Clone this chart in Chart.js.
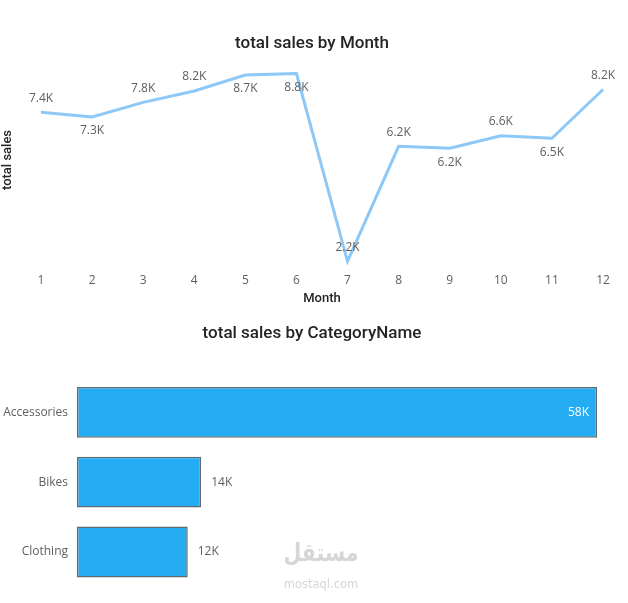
<!DOCTYPE html>
<html>
<head>
<meta charset="utf-8">
<script src="https://cdn.jsdelivr.net/npm/chart.js@4/dist/chart.umd.min.js"></script>
<style>
  html, body { margin: 0; padding: 0; background: #ffffff; }
  body { width: 628px; height: 603px; position: relative; overflow: hidden; }
  #lineWrap { position: absolute; left: 0; top: 0; width: 628px; height: 310px; }
  #barWrap { position: absolute; left: 0; top: 315px; width: 628px; height: 288px; }
  .wm { position: absolute; color: #d6d6d6; pointer-events: none; white-space: nowrap; transform: translateX(-50%); }
  #wmAr { top: 538px; left: 321px; font: bold 25px "DejaVu Sans", sans-serif; transform: translateX(-50%) scaleX(0.82); }
  #wmEn { top: 577px; left: 321px; font: 11.5px "DejaVu Sans", sans-serif; }
</style>
</head>
<body>
<div id="lineWrap"><canvas id="lineChart" width="628" height="310"></canvas></div>
<div id="barWrap"><canvas id="barChart" width="628" height="288"></canvas></div>
<div class="wm" id="wmAr">مستقل</div>
<div class="wm" id="wmEn">mostaql.com</div>
<script>
// ---- data ----
const months = ['1','2','3','4','5','6','7','8','9','10','11','12'];
const monthlySales = [7430, 7270, 7780, 8180, 8740, 8790, 2210, 6240, 6170, 6610, 6520, 8230];
const categories = ['Accessories', 'Bikes', 'Clothing'];
const categorySales = [58000, 13850, 12350];
// months whose data label sits below the line
const labelBelowMonths = ['2', '5', '6', '9', '11'];

const LABEL_FONT = '12px "Open Sans", sans-serif';
const LABEL_COLOR = '#605E5C';
const TITLE_CSS_FONT = '500 17px Roboto, sans-serif';
const TITLE_COLOR = '#252423';

const fmt1 = v => (v / 1000).toFixed(1) + 'K';
const fmt0 = v => Math.round(v / 1000) + 'K';

// centred chart title drawn across the full canvas width
const centerTitle = {
  id: 'centerTitle',
  afterDraw(chart, args, opts) {
    const ctx = chart.ctx;
    ctx.save();
    ctx.font = TITLE_CSS_FONT;
    ctx.fillStyle = TITLE_COLOR;
    ctx.textAlign = 'center';
    ctx.textBaseline = 'middle';
    ctx.fillText(opts.text, chart.width / 2 - 2, opts.y);
    ctx.restore();
  }
};

const lineLabels = {
  id: 'lineLabels',
  afterDatasetsDraw(chart) {
    const ctx = chart.ctx;
    const meta = chart.getDatasetMeta(0);
    ctx.save();
    ctx.font = LABEL_FONT;
    ctx.fillStyle = LABEL_COLOR;
    ctx.textAlign = 'center';
    ctx.textBaseline = 'middle';
    meta.data.forEach((pt, i) => {
      const below = labelBelowMonths.includes(months[i]);
      ctx.fillText(fmt1(monthlySales[i]), pt.x, pt.y + (below ? 14 : -14));
    });
    ctx.restore();
  }
};

new Chart(document.getElementById('lineChart'), {
  type: 'line',
  data: {
    labels: months,
    datasets: [{
      data: monthlySales,
      borderColor: '#8DC8F7',
      borderWidth: 3,
      pointRadius: 0,
      tension: 0,
      fill: false
    }]
  },
  options: {
    responsive: false,
    animation: false,
    layout: { padding: { left: 0, right: 25, top: 55, bottom: 3 } },
    plugins: {
      legend: { display: false },
      tooltip: { enabled: false },
      title: { display: false },
      centerTitle: { text: 'total sales by Month', y: 44 }
    },
    scales: {
      x: {
        offset: false,
        grid: { display: false, drawTicks: false },
        border: { display: false },
        ticks: { color: LABEL_COLOR, font: { family: 'Open Sans', size: 12 }, padding: 8, maxRotation: 0 },
        title: { display: true, text: 'Month', color: TITLE_COLOR, font: { family: 'Roboto', size: 13, weight: '500' }, padding: { top: 4, bottom: 0 } },
        afterFit(s) { s.height = 42; }
      },
      y: {
        min: 2080,
        max: 9440,
        grid: { display: false, drawTicks: false },
        border: { display: false },
        ticks: { display: false },
        title: { display: true, text: 'total sales', color: TITLE_COLOR, font: { family: 'Roboto', size: 13, weight: '500' }, padding: 0 },
        afterFit(s) { s.width = 41; }
      }
    }
  },
  plugins: [lineLabels, centerTitle]
});

const barLabels = {
  id: 'barLabels',
  afterDatasetsDraw(chart) {
    const ctx = chart.ctx;
    const meta = chart.getDatasetMeta(0);
    const area = chart.chartArea;
    ctx.save();
    ctx.font = LABEL_FONT;
    ctx.textBaseline = 'middle';
    meta.data.forEach((bar, i) => {
      const txt = fmt0(categorySales[i]);
      const w = ctx.measureText(txt).width;
      if (bar.x + 10 + w > area.right) {
        ctx.fillStyle = '#ffffff';
        ctx.textAlign = 'right';
        ctx.fillText(txt, bar.x - 8, bar.y);
      } else {
        ctx.fillStyle = LABEL_COLOR;
        ctx.textAlign = 'left';
        ctx.fillText(txt, bar.x + 10, bar.y);
      }
    });
    ctx.restore();
  }
};

new Chart(document.getElementById('barChart'), {
  type: 'bar',
  data: {
    labels: categories,
    datasets: [{
      data: categorySales,
      backgroundColor: '#24ADF3',
      borderColor: '#5E6B72',
      borderWidth: 1.5,
      borderSkipped: false,
      categoryPercentage: 1,
      barPercentage: 0.73
    }]
  },
  options: {
    indexAxis: 'y',
    responsive: false,
    animation: false,
    layout: { padding: { left: 0, right: 31, top: 62.5, bottom: 15.5 } },
    plugins: {
      legend: { display: false },
      tooltip: { enabled: false },
      title: { display: false },
      centerTitle: { text: 'total sales by CategoryName', y: 19 }
    },
    scales: {
      x: {
        display: false,
        min: 0,
        max: 58000
      },
      y: {
        grid: { display: false, drawTicks: false },
        border: { display: false },
        ticks: { color: LABEL_COLOR, font: { family: 'Open Sans', size: 12 }, padding: 9 },
        afterFit(s) { s.width = 77; }
      }
    }
  },
  plugins: [barLabels, centerTitle]
});
</script>
</body>
</html>
